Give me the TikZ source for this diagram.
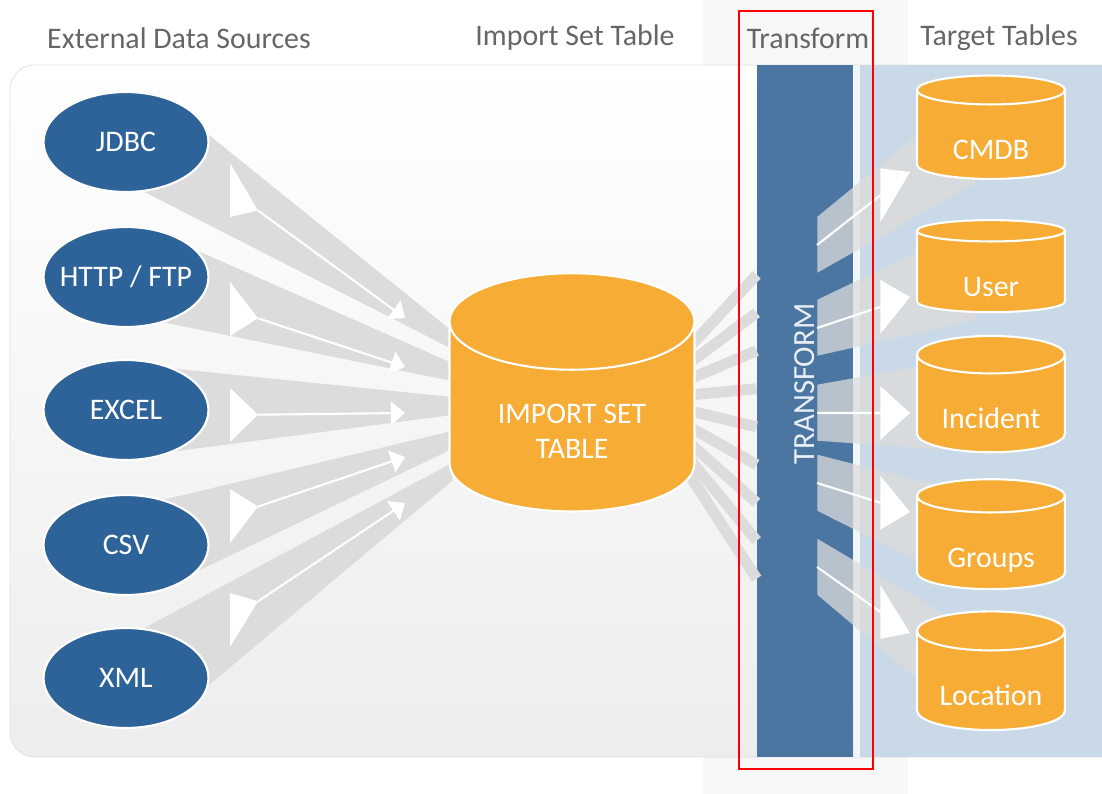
\documentclass[tikz,border=0pt]{standalone}
\usepackage{fontspec}
\setmainfont{Carlito}
\usetikzlibrary{positioning,calc,arrows.meta,shapes.geometric}

\definecolor{srcblue}{HTML}{2E6399}
\definecolor{barblue}{HTML}{4A76A1}
\definecolor{dborange}{HTML}{F6AC35}
\definecolor{tgtbg}{HTML}{C9D9E7}
\definecolor{bandgray}{HTML}{DCDCDC}
\definecolor{hdrgray}{HTML}{666666}

\pgfdeclarelayer{back}
\pgfdeclarelayer{mid}
\pgfsetlayers{back,mid,main}

\begin{document}
\begin{tikzpicture}[
  x=0.02cm, y=-0.02cm,
  hdr/.style={font=\fontsize{17}{20}\selectfont, text=hdrgray},
  src/.style={ellipse, fill=srcblue, draw=white, line width=1.2pt,
    minimum width=3.3cm, minimum height=2cm, inner sep=0pt,
    inner xsep=-0.5cm, text=white, font=\fontsize{17}{20}\selectfont},
  db/.style={cylinder, shape border rotate=90, fill=dborange, draw=white,
    line width=1.2pt, text=white, font=\fontsize{17}{20}\selectfont,
    align=center, inner sep=0pt},
  tgt/.style={db, minimum width=2.96cm, minimum height=1.8cm, aspect=0.38,
    text height=1.08cm, text depth=0.1cm},
  bar/.style={rectangle, fill=barblue, minimum width=1.92cm,
    minimum height=13.84cm, inner sep=0pt},
  band/.style={fill=bandgray},
  outband/.style={fill=bandgray, opacity=0.75},
  stripe/.style={draw=bandgray, line width=0.22cm},
  flow/.style={white, line width=1.2pt},
  head/.style={fill=white}
]
\useasboundingbox (0,0) rectangle (1102,794);

% ---- headers ----
\node[hdr] (hsrc) at (179,38) {External Data Sources};
\node[hdr] (himp) at (575,38) {Import Set Table};
\node[hdr] (hxf) at (808,38) {Transform};
\node[hdr] (htgt) at (999,38) {Target Tables};

% ---- sources ----
\node[src] (jdbc) at (126,142) {JDBC};
\node[src] (http) at (126,277) {HTTP / FTP};
\node[src] (excel) at (126,410) {EXCEL};
\node[src] (csv) at (126,545) {CSV};
\node[src] (xml) at (126,678) {XML};

% ---- import set table ----
\node[db, minimum width=4.9cm, minimum height=3.75cm, aspect=0.65,
  text height=1.75cm, text depth=0.1cm] (imp) at (572,417)
  {IMPORT SET\\TABLE};

% ---- targets ----
\node[tgt] (cmdb) at (991,135) {CMDB};
\node[tgt] (user) at (991,272) {User};
\node[tgt] (incident) at (991,404) {Incident};
\node[tgt] (groups) at (991,543) {Groups};
\node[tgt] (location) at (991,681) {Location};

\begin{pgfonlayer}{back}
  \fill[black!3] (703,0) rectangle (908,794);
  \draw[black!12, top color=white, bottom color=black!7,
    rounded corners=14pt] (10,65) rectangle (1130,757);
  \fill[tgtbg] (860,65) rectangle (1102,757);
  \node[bar] (bar) at (805,411) {};
  \fill[white!75!tgtbg] (854,65) rectangle (860,757);
\end{pgfonlayer}

\begin{pgfonlayer}{mid}
  % sources -> import set table
  \foreach \s/\a/\b/\e in {jdbc/5/-70/340, http/20/-50/372,
      excel/40/-40/406, csv/50/-20/440, xml/70/-5/472}
    \fill[band] (\s.\a) -- (452,\e-9) -- (452,\e+9) -- (\s.\b) -- cycle;
  \foreach \f/\t in {190/318, 309/367, 415/413, 516/457, 620/503} {
    \coordinate (fl) at ($(230,\f)!0.16!(405,\t)$);
    \fill[head] (230,\f-27) -- (fl) -- (230,\f+27) -- cycle;
    \draw[flow, -{Triangle[length=2.8mm, width=4.6mm]}] (fl) -- (405,\t);
  }
  % import set table -> transform
  \foreach \i in {0,...,8}
    \draw[stripe] ($(imp.east)+(-6,-70+16*\i)$)
      -- ($(bar.north west)+(0,210+38*\i)$);
  % transform -> targets
  \foreach \t/\s in {cmdb/245, user/328, incident/413, groups/483,
      location/567}
    \fill[outband] ($(bar.north east)+(-36,\s-93)$)
      -- ($(\t)+(-15,-48)$) -- ($(\t)+(-15,48)$)
      -- ($(bar.north east)+(-36,\s-37)$) -- cycle;
  \foreach \s/\t in {245/172, 328/297, 413/413, 483/512, 567/633} {
    \coordinate (hd) at ($(817,\s)!0.68!(910,\t)$);
    \draw[flow] (817,\s) -- (hd);
    \fill[head] ($(hd)+(0,-27)$) -- (910,\t) -- ($(hd)+(0,27)$) -- cycle;
  }
\end{pgfonlayer}

\node[rotate=90, text=white!88!barblue, font=\fontsize{17.5}{20}\selectfont]
  (xform) at ($(bar.center)+(0,-27)$) {TRANSFORM};

% ---- frame round the transform step ----
\draw[red, line width=1.4pt] (739,11) rectangle (873,769);
\end{tikzpicture}
\end{document}
